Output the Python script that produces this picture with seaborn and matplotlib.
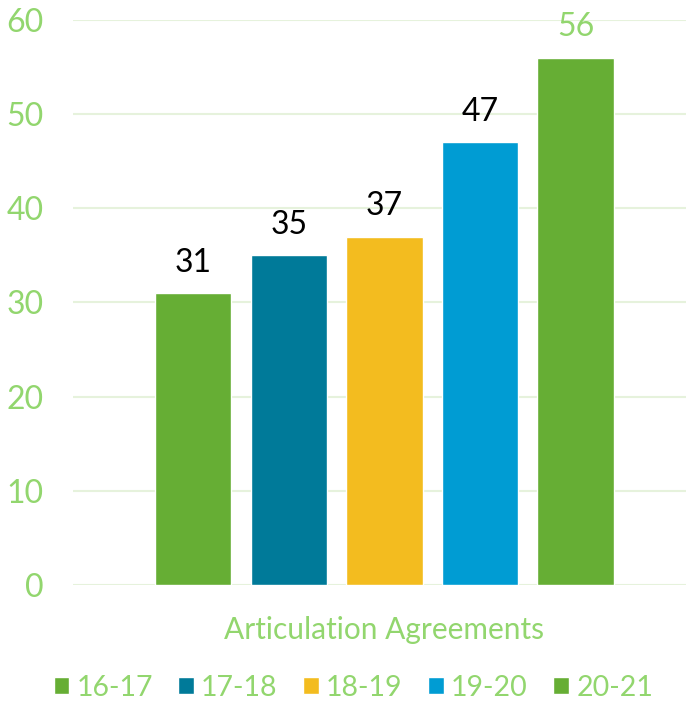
import matplotlib
matplotlib.use("Agg")
import matplotlib.pyplot as plt
import seaborn as sns
import pandas as pd

category = ["Articulation Agreements"]
years = ["16-17", "17-18", "18-19", "19-20", "20-21"]
counts = [31, 35, 37, 47, 56]
colors = ["#66AE34", "#007A99", "#F3BC1F", "#009CD3", "#66AE34"]

df = pd.DataFrame({"category": category * len(years), "year": years, "count": counts})

sns.set_style("white")
plt.rcParams["font.family"] = ["Lato", "DejaVu Sans"]
light_green = "#92D66E"

fig = plt.figure(figsize=(6.86, 7.03), dpi=100)
ax = fig.add_axes([0.1064, 0.1679, 0.8936, 0.8037])

sns.barplot(data=df, x="category", y="count", hue="year", palette=colors,
            width=0.78, gap=0.2, saturation=1, ax=ax, legend=True)

ax.set_ylim(0, 60)
ax.set_xlim(-0.508, 0.492)
ax.set_yticks(range(0, 61, 10))
ax.yaxis.grid(True, color="#E6F2DC", linewidth=1.5)
ax.set_axisbelow(True)
for s in ax.spines.values():
    s.set_visible(False)
ax.tick_params(axis="both", length=0, labelsize=23, colors=light_green)
ax.tick_params(axis="x", pad=22, labelsize=21.5)
ax.tick_params(axis="y", pad=21)
ax.set_xlabel("")
ax.set_ylabel("")

for i, cont in enumerate(ax.containers):
    c = light_green if counts[i] == 56 else "black"
    ax.bar_label(cont, padding=11, fontsize=23, color=c)

handles, labels = ax.get_legend_handles_labels()
ax.legend_.remove()
fig.legend(handles, labels, loc="center", bbox_to_anchor=(0.515, 0.022), ncol=5,
           frameon=False, fontsize=20.5, labelcolor=light_green, handlelength=0.55,
           handleheight=0.55, handletextpad=0.25, columnspacing=0.9)

fig.savefig("out.png", dpi=100)
